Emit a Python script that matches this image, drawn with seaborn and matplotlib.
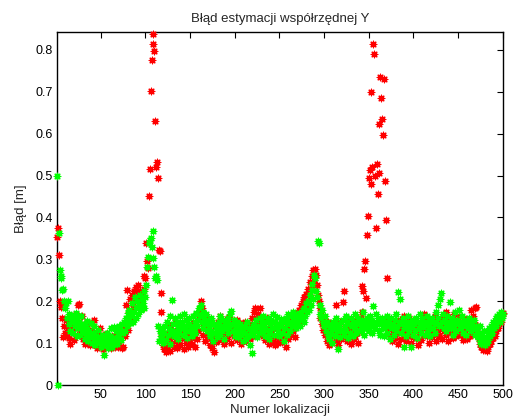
import numpy as np
import pandas as pd
import matplotlib
matplotlib.use("Agg")
import matplotlib.pyplot as plt
import seaborn as sns

title = "Błąd estymacji współrzędnej Y"
xlabel = "Numer lokalizacji"
ylabel = "Błąd [m]"
xticks = [50, 100, 150, 200, 250, 300, 350, 400, 450, 500]
yticks = [0, 0.1, 0.2, 0.3, 0.4, 0.5, 0.6, 0.7, 0.8]

red_err = [
    0.354, 0.376, 0.310, 0.200, 0.187, 0.195, 0.160, 0.115, 0.140, 0.125,
    0.155, 0.118, 0.135, 0.112, 0.150, 0.098, 0.128, 0.160, 0.142, 0.108,
    0.135, 0.170, 0.155, 0.120, 0.191, 0.193, 0.145, 0.132, 0.165, 0.110,
    0.125, 0.098, 0.140, 0.118, 0.150, 0.105, 0.128, 0.095, 0.112, 0.132,
    0.102, 0.120, 0.155, 0.098, 0.110, 0.088, 0.125, 0.105, 0.135, 0.092,
    0.118, 0.100, 0.085, 0.112, 0.095, 0.122, 0.108, 0.090, 0.115, 0.098,
    0.105, 0.088, 0.118, 0.095, 0.110, 0.092, 0.100, 0.125, 0.090, 0.108,
    0.095, 0.112, 0.130, 0.088, 0.091, 0.142, 0.118, 0.190, 0.227, 0.150,
    0.132, 0.175, 0.205, 0.160, 0.215, 0.185, 0.225, 0.200, 0.235, 0.227,
    0.210, 0.240, 0.195, 0.225, 0.205, 0.185, 0.215, 0.230, 0.260, 0.255,
    0.340, 0.297, 0.280, 0.452, 0.515, 0.703, 0.776, 0.815, 0.838, 0.797,
    0.630, 0.521, 0.533, 0.494, 0.322, 0.320, 0.220, 0.175, 0.120, 0.095,
    0.085, 0.110, 0.078, 0.125, 0.090, 0.105, 0.140, 0.082, 0.118, 0.100,
    0.128, 0.092, 0.150, 0.110, 0.088, 0.135, 0.102, 0.120, 0.095, 0.145,
    0.112, 0.130, 0.085, 0.118, 0.155, 0.100, 0.125, 0.092, 0.140, 0.108,
    0.120, 0.098, 0.150, 0.115, 0.132, 0.090, 0.145, 0.110, 0.128, 0.160,
    0.175, 0.201, 0.185, 0.140, 0.120, 0.150, 0.105, 0.135, 0.160, 0.118,
    0.130, 0.095, 0.145, 0.112, 0.088, 0.125, 0.080, 0.140, 0.102, 0.118,
    0.150, 0.108, 0.132, 0.165, 0.115, 0.140, 0.125, 0.098, 0.155, 0.130,
    0.110, 0.145, 0.120, 0.162, 0.135, 0.100, 0.128, 0.150, 0.118, 0.140,
    0.125, 0.155, 0.108, 0.135, 0.115, 0.148, 0.098, 0.130, 0.142, 0.112,
    0.128, 0.150, 0.105, 0.138, 0.120, 0.145, 0.110, 0.132, 0.160, 0.118,
    0.140, 0.175, 0.183, 0.160, 0.135, 0.170, 0.148, 0.183, 0.155, 0.125,
    0.142, 0.118, 0.150, 0.108, 0.135, 0.160, 0.122, 0.098, 0.140, 0.115,
    0.128, 0.150, 0.105, 0.135, 0.095, 0.118, 0.145, 0.100, 0.130, 0.112,
    0.125, 0.140, 0.102, 0.150, 0.118, 0.135, 0.090, 0.128, 0.145, 0.110,
    0.138, 0.155, 0.120, 0.165, 0.130, 0.150, 0.115, 0.160, 0.140, 0.172,
    0.155, 0.180, 0.145, 0.190, 0.165, 0.200, 0.178, 0.210, 0.195, 0.218,
    0.185, 0.230, 0.200, 0.245, 0.210, 0.260, 0.235, 0.275, 0.250, 0.278,
    0.262, 0.240, 0.215, 0.200, 0.185, 0.160, 0.170, 0.145, 0.132, 0.150,
    0.120, 0.138, 0.105, 0.150, 0.095, 0.125, 0.112, 0.140, 0.100, 0.130,
    0.118, 0.145, 0.190, 0.108, 0.135, 0.095, 0.120, 0.150, 0.110, 0.128,
    0.199, 0.224, 0.140, 0.115, 0.160, 0.105, 0.135, 0.122, 0.150, 0.098,
    0.128, 0.145, 0.110, 0.138, 0.118, 0.155, 0.125, 0.100, 0.140, 0.132,
    0.160, 0.175, 0.237, 0.225, 0.276, 0.297, 0.208, 0.358, 0.403, 0.495,
    0.513, 0.481, 0.700, 0.520, 0.813, 0.790, 0.499, 0.374, 0.527, 0.456,
    0.623, 0.505, 0.736, 0.684, 0.636, 0.597, 0.730, 0.487, 0.394, 0.255,
    0.160, 0.135, 0.150, 0.118, 0.140, 0.105, 0.128, 0.150, 0.112, 0.138,
    0.125, 0.145, 0.098, 0.132, 0.155, 0.110, 0.140, 0.120, 0.165, 0.128,
    0.150, 0.105, 0.135, 0.118, 0.160, 0.140, 0.100, 0.128, 0.145, 0.115,
    0.135, 0.155, 0.112, 0.140, 0.095, 0.125, 0.150, 0.108, 0.132, 0.145,
    0.120, 0.170, 0.140, 0.160, 0.118, 0.135, 0.155, 0.100, 0.128, 0.142,
    0.115, 0.150, 0.130, 0.165, 0.105, 0.140, 0.125, 0.158, 0.118, 0.135,
    0.148, 0.110, 0.162, 0.128, 0.140, 0.175, 0.120, 0.150, 0.105, 0.135,
    0.160, 0.125, 0.148, 0.112, 0.170, 0.138, 0.155, 0.118, 0.145, 0.128,
    0.165, 0.140, 0.120, 0.150, 0.108, 0.135, 0.160, 0.125, 0.145, 0.110,
    0.138, 0.155, 0.118, 0.180, 0.142, 0.128, 0.165, 0.150, 0.185, 0.187,
    0.140, 0.125, 0.110, 0.098, 0.118, 0.090, 0.105, 0.084, 0.095, 0.088,
    0.100, 0.082, 0.110, 0.092, 0.120, 0.098, 0.105, 0.125, 0.112, 0.130,
    0.118, 0.140, 0.128, 0.150, 0.135, 0.145, 0.160, 0.150, 0.165, 0.172,
]

green_err = [
    0.500, 0.000, 0.363, 0.274, 0.260, 0.255, 0.227, 0.230, 0.200, 0.185,
    0.195, 0.160, 0.200, 0.145, 0.170, 0.130, 0.155, 0.165, 0.125, 0.150,
    0.140, 0.172, 0.118, 0.160, 0.135, 0.150, 0.120, 0.165, 0.140, 0.128,
    0.145, 0.110, 0.138, 0.120, 0.152, 0.105, 0.130, 0.115, 0.148, 0.100,
    0.125, 0.110, 0.140, 0.095, 0.118, 0.105, 0.132, 0.100, 0.115, 0.092,
    0.108, 0.120, 0.098, 0.072, 0.112, 0.095, 0.125, 0.088, 0.105, 0.118,
    0.100, 0.135, 0.092, 0.112, 0.138, 0.105, 0.128, 0.098, 0.120, 0.140,
    0.115, 0.132, 0.108, 0.145, 0.125, 0.150, 0.130, 0.160, 0.140, 0.172,
    0.155, 0.180, 0.148, 0.165, 0.195, 0.150, 0.175, 0.210, 0.160, 0.185,
    0.200, 0.170, 0.190, 0.215, 0.180, 0.205, 0.195, 0.225, 0.185, 0.210,
    0.240, 0.281, 0.305, 0.340, 0.346, 0.350, 0.330, 0.303, 0.368, 0.282,
    0.255, 0.260, 0.250, 0.140, 0.105, 0.130, 0.118, 0.110, 0.135, 0.100,
    0.125, 0.142, 0.108, 0.150, 0.120, 0.135, 0.098, 0.165, 0.130, 0.203,
    0.145, 0.118, 0.160, 0.128, 0.150, 0.110, 0.140, 0.125, 0.165, 0.135,
    0.150, 0.120, 0.170, 0.138, 0.128, 0.155, 0.112, 0.145, 0.160, 0.130,
    0.142, 0.118, 0.165, 0.135, 0.150, 0.125, 0.172, 0.140, 0.155, 0.185,
    0.165, 0.190, 0.150, 0.175, 0.135, 0.160, 0.145, 0.170, 0.128, 0.155,
    0.140, 0.118, 0.160, 0.130, 0.150, 0.105, 0.145, 0.125, 0.138, 0.115,
    0.132, 0.150, 0.120, 0.165, 0.140, 0.128, 0.155, 0.110, 0.145, 0.135,
    0.150, 0.125, 0.160, 0.138, 0.170, 0.177, 0.145, 0.130, 0.155, 0.118,
    0.140, 0.128, 0.150, 0.115, 0.135, 0.145, 0.120, 0.130, 0.105, 0.140,
    0.125, 0.138, 0.110, 0.150, 0.118, 0.135, 0.095, 0.128, 0.077, 0.140,
    0.120, 0.145, 0.130, 0.155, 0.115, 0.140, 0.125, 0.160, 0.135, 0.150,
    0.128, 0.165, 0.140, 0.118, 0.150, 0.132, 0.160, 0.110, 0.145, 0.125,
    0.155, 0.135, 0.170, 0.120, 0.150, 0.138, 0.162, 0.128, 0.145, 0.118,
    0.140, 0.158, 0.125, 0.150, 0.105, 0.135, 0.160, 0.120, 0.145, 0.170,
    0.150, 0.130, 0.165, 0.140, 0.175, 0.155, 0.145, 0.168, 0.135, 0.160,
    0.150, 0.172, 0.140, 0.165, 0.155, 0.178, 0.150, 0.185, 0.165, 0.195,
    0.175, 0.200, 0.180, 0.215, 0.190, 0.227, 0.242, 0.205, 0.262, 0.255,
    0.225, 0.210, 0.345, 0.340, 0.190, 0.170, 0.160, 0.180, 0.150, 0.140,
    0.165, 0.130, 0.150, 0.120, 0.145, 0.110, 0.138, 0.125, 0.100, 0.150,
    0.135, 0.118, 0.160, 0.128, 0.145, 0.087, 0.140, 0.115, 0.150, 0.130,
    0.155, 0.120, 0.140, 0.165, 0.130, 0.150, 0.112, 0.145, 0.125, 0.160,
    0.140, 0.118, 0.150, 0.135, 0.170, 0.125, 0.145, 0.160, 0.132, 0.150,
    0.128, 0.155, 0.140, 0.175, 0.120, 0.150, 0.135, 0.160, 0.145, 0.130,
    0.165, 0.140, 0.155, 0.125, 0.189, 0.150, 0.135, 0.170, 0.145, 0.160,
    0.130, 0.150, 0.120, 0.145, 0.160, 0.135, 0.118, 0.150, 0.140, 0.165,
    0.125, 0.150, 0.140, 0.110, 0.160, 0.135, 0.145, 0.120, 0.155, 0.130,
    0.170, 0.140, 0.223, 0.150, 0.205, 0.125, 0.145, 0.160, 0.091, 0.135,
    0.150, 0.118, 0.140, 0.165, 0.128, 0.150, 0.091, 0.140, 0.155, 0.120,
    0.145, 0.130, 0.160, 0.112, 0.150, 0.135, 0.170, 0.125, 0.145, 0.160,
    0.138, 0.150, 0.120, 0.145, 0.165, 0.130, 0.155, 0.140, 0.118, 0.150,
    0.160, 0.135, 0.150, 0.125, 0.175, 0.145, 0.190, 0.160, 0.140, 0.205,
    0.219, 0.150, 0.170, 0.135, 0.155, 0.128, 0.145, 0.165, 0.140, 0.150,
    0.199, 0.135, 0.160, 0.120, 0.150, 0.140, 0.175, 0.130, 0.155, 0.145,
    0.180, 0.150, 0.135, 0.165, 0.140, 0.125, 0.155, 0.145, 0.120, 0.150,
    0.135, 0.160, 0.140, 0.150, 0.128, 0.145, 0.135, 0.155, 0.120, 0.140,
    0.130, 0.115, 0.125, 0.105, 0.140, 0.098, 0.120, 0.108, 0.130, 0.095,
    0.115, 0.100, 0.125, 0.108, 0.135, 0.118, 0.140, 0.125, 0.150, 0.135,
    0.148, 0.160, 0.140, 0.165, 0.155, 0.170, 0.150, 0.175, 0.160, 0.170,
]

sns.set_style("white")
plt.rcParams["font.family"] = ["Liberation Sans", "DejaVu Sans"]

df_r = pd.DataFrame({"idx": np.arange(1, len(red_err) + 1), "err": red_err})
df_g = pd.DataFrame({"idx": np.arange(1, len(green_err) + 1), "err": green_err})

fig = plt.figure(figsize=(5.13, 4.19), dpi=100)
ax = fig.add_axes([0.111, 0.081, 0.869, 0.843])

star = (8, 2, 0)
sns.scatterplot(data=df_r, x="idx", y="err", ax=ax, marker=star, color="#ff0000",
                edgecolor="#ff0000", s=22, linewidth=0.9, legend=False, zorder=3)
sns.scatterplot(data=df_g, x="idx", y="err", ax=ax, marker=star, color="#00ff00",
                edgecolor="#00ff00", s=22, linewidth=0.9, legend=False, zorder=4)

ax.set_xlim(1, 500)
ax.set_ylim(0, 0.843)
ax.set_xticks(xticks)
ax.set_yticks(yticks)
ax.set_yticklabels(["0", "0.1", "0.2", "0.3", "0.4", "0.5", "0.6", "0.7", "0.8"])
ax.tick_params(direction="in", length=4, width=0.8, top=True, right=True,
               labelsize=9, colors="black", pad=3)
for sp in ax.spines.values():
    sp.set_visible(True)
    sp.set_color("black")
    sp.set_linewidth(1.0)
ax.set_title(title, fontsize=9.5, pad=7)
ax.set_xlabel(xlabel, fontsize=9.5, labelpad=2)
ax.set_ylabel(ylabel, fontsize=9.5, labelpad=6)
for coll in ax.collections:
    coll.set_clip_on(False)

fig.savefig("out.png", dpi=100)
